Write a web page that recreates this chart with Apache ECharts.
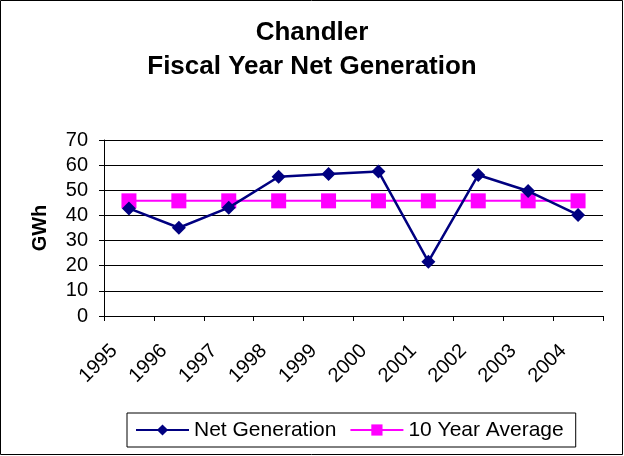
<!DOCTYPE html>
<html>
<head>
<meta charset="utf-8">
<script src="https://cdn.jsdelivr.net/npm/echarts@6/dist/echarts.min.js"></script>
<style>
  html, body { margin: 0; padding: 0; background: #fff; }
  #chart { width: 624px; height: 456px; }
</style>
</head>
<body>
<div id="chart"></div>
<script>
const years = ['1995', '1996', '1997', '1998', '1999', '2000', '2001', '2002', '2003', '2004']
const netGeneration = [42.8, 35.1, 43.1, 55.4, 56.5, 57.5, 21.6, 56.1, 49.7, 40.2]
const tenYearAverage = [45.8, 45.8, 45.8, 45.8, 45.8, 45.8, 45.8, 45.8, 45.8, 45.8]

const font = 'Arial, "Liberation Sans", sans-serif'
const chart = echarts.init(document.getElementById('chart'))

chart.setOption({
  animation: false,
  backgroundColor: '#fff',
  title: {
    text: 'Chandler\nFiscal Year Net Generation',
    left: 'center',
    top: 11,
    textStyle: { fontFamily: font, fontSize: 26, fontWeight: 'bold', color: '#000', lineHeight: 34 }
  },
  graphic: [{
    type: 'rect',
    shape: { x: 0.5, y: 0.5, width: 622, height: 454 },
    style: { fill: 'none', stroke: '#000', lineWidth: 1 },
    silent: true
  }],
  grid: { left: 104, right: 21, top: 140, bottom: 140 },
  legend: {
    left: 127,
    bottom: 9,
    itemWidth: 53,
    itemHeight: 14,
    itemGap: 13,
    padding: [6, 12, 6, 8],
    borderColor: '#000',
    borderWidth: 1,
    textStyle: { fontFamily: font, fontSize: 21, lineHeight: 22, color: '#000' },
    data: ['Net Generation', '10 Year Average']
  },
  xAxis: {
    type: 'category',
    data: years,
    boundaryGap: true,
    axisLine: { lineStyle: { color: '#000', width: 1 } },
    axisTick: { show: true, length: 5, lineStyle: { color: '#000' } },
    axisLabel: {
      interval: 0, rotate: 45, margin: 17, padding: [0, 21, 0, 0],
      fontFamily: font, fontSize: 20, color: '#000'
    }
  },
  yAxis: {
    type: 'value',
    min: 0,
    max: 70,
    interval: 10,
    name: 'GWh',
    nameLocation: 'middle',
    nameRotate: 90,
    nameGap: 54,
    nameTextStyle: { fontFamily: font, fontSize: 20, fontWeight: 'bold', color: '#000' },
    axisLine: { show: true, lineStyle: { color: '#000', width: 1 } },
    axisTick: { show: true, length: 5, lineStyle: { color: '#000' } },
    axisLabel: { margin: 16, fontFamily: font, fontSize: 20, color: '#000' },
    splitLine: { lineStyle: { color: '#000', width: 1 } }
  },
  series: [
    {
      name: '10 Year Average',
      type: 'line',
      data: tenYearAverage,
      symbol: 'rect',
      symbolSize: 15,
      z: 2,
      lineStyle: { color: '#ff00ff', width: 2 },
      itemStyle: { color: '#ff00ff' }
    },
    {
      name: 'Net Generation',
      type: 'line',
      data: netGeneration,
      symbol: 'diamond',
      symbolSize: 14,
      z: 3,
      lineStyle: { color: '#000080', width: 2.5 },
      itemStyle: { color: '#000080' }
    }
  ]
})
</script>
</body>
</html>
